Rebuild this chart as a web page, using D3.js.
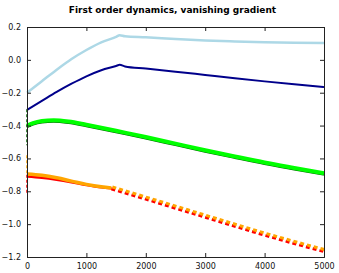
<!DOCTYPE html>
<html>
<head>
<meta charset="utf-8">
<script src="https://cdn.jsdelivr.net/npm/d3@7"></script>
<style>
  body { margin: 0; background: #fff; }
  svg { display: block; font-family: "DejaVu Sans", sans-serif; }
</style>
</head>
<body>
<script>
// Chart size and axes box
const width = 339;
const height = 273;
const margin = { top: 27, right: 15, bottom: 16, left: 27 };

// Data
const xTicks = [0, 1000, 2000, 3000, 4000, 5000];
const yTicks = [0.2, 0.0, -0.2, -0.4, -0.6, -0.8, -1.0, -1.2];

const tBlue = [0, 250, 500, 750, 1000, 1250, 1500, 1560, 1650, 2000, 2500, 3000, 3500, 4000, 4500, 5000];
const lightBlue = [-0.2, -0.13, -0.06, 0.005, 0.06, 0.107, 0.14, 0.15, 0.143, 0.137, 0.127, 0.118, 0.112, 0.107, 0.104, 0.102];
const darkBlue = [-0.305, -0.25, -0.195, -0.145, -0.1, -0.063, -0.037, -0.03, -0.04, -0.053, -0.072, -0.092, -0.112, -0.131, -0.149, -0.166];

const tGreen = [0, 100, 250, 450, 700, 1000, 1250, 1500, 2000, 2500, 3000, 3500, 4000, 4500, 5000];
const green = [-0.4, -0.385, -0.372, -0.367, -0.375, -0.395, -0.413, -0.432, -0.47, -0.51, -0.55, -0.588, -0.625, -0.658, -0.69];

const tSolid = [0, 250, 500, 750, 1000, 1250, 1420];
const orangeSolid = [-0.695, -0.703, -0.718, -0.738, -0.758, -0.773, -0.78];
const redSolid = [-0.71, -0.718, -0.73, -0.745, -0.762, -0.776, -0.782];

const tDotted = [1420, 2000, 2500, 3000, 3500, 4000, 4500, 5000];
const orangeDotted = [-0.78, -0.843, -0.898, -0.953, -1.008, -1.062, -1.113, -1.162];
const redDotted = [-0.785, -0.848, -0.903, -0.958, -1.013, -1.067, -1.118, -1.167];

// short dashed runs at t = 0
const greenStart = [-0.3, -0.52];
const orangeStart = [-0.58, -0.69];
const redStart = [-0.7, -0.82];

const x = d3.scaleLinear().domain([0, 5000]).range([margin.left, width - margin.right]);
const y = d3.scaleLinear().domain([-1.2, 0.2]).range([height - margin.bottom, margin.top]);

const svg = d3.select("body").append("svg")
  .attr("width", width)
  .attr("height", height);

const line = d3.line().x(d => x(d[0])).y(d => y(d[1])).curve(d3.curveMonotoneX);

function draw(ts, vs, color, w, dash) {
  const p = svg.append("path")
    .datum(ts.map((t, i) => [t, vs[i]]))
    .attr("fill", "none")
    .attr("stroke", color)
    .attr("stroke-width", w)
    .attr("d", line);
  if (dash) p.attr("stroke-dasharray", dash);
  return p;
}

// start transients
draw([0, 0], greenStart, "#006400", 1.5, "3,2");
draw([0, 0], orangeStart, "#ffa500", 1.5, "3,2");
draw([0, 0], redStart, "#ff0000", 1.5, "3,2");

draw(tBlue, lightBlue, "#add8e6", 2.5);
draw(tBlue, darkBlue, "#00008b", 2);
draw(tGreen, green.map(v => v - 0.006), "#006400", 3);
draw(tGreen, green, "#00ff00", 4);

// red sits under the orange band
draw(tSolid, redSolid, "#ff0000", 2.5);
draw(tSolid, orangeSolid, "#ffa500", 3.5);
draw(tDotted, redDotted, "#ff0000", 3, "4,3");
draw(tDotted, orangeDotted, "#ffa500", 3, "4,3").attr("transform", "translate(1,-1)");

// axes: ticks inward on all sides
const fmt = d => d3.format(".1f")(d).replace("-", "\u2212");
svg.append("g")
  .attr("transform", `translate(0,${height - margin.bottom})`)
  .call(d3.axisBottom(x).tickValues(xTicks).tickSize(-4).tickPadding(6).tickFormat(d3.format("d")));
svg.append("g")
  .attr("transform", `translate(0,${margin.top})`)
  .call(d3.axisTop(x).tickValues(xTicks).tickSize(-4).tickFormat(""));
svg.append("g")
  .attr("transform", `translate(${margin.left},0)`)
  .call(d3.axisLeft(y).tickValues(yTicks).tickSize(-4).tickPadding(6).tickFormat(fmt));
svg.append("g")
  .attr("transform", `translate(${width - margin.right},0)`)
  .call(d3.axisRight(y).tickValues(yTicks).tickSize(-4).tickFormat(""));

svg.selectAll(".domain").attr("stroke", "#222");
svg.selectAll(".tick line").attr("stroke", "#222");
svg.selectAll(".tick text").attr("font-size", 8).attr("fill", "#111").attr("font-family", "DejaVu Sans");

svg.append("text")
  .attr("x", (margin.left + width - margin.right) / 2 - 3)
  .attr("y", 13)
  .attr("text-anchor", "middle")
  .attr("font-size", 9)
  .attr("font-weight", "bold")
  .text("First order dynamics, vanishing gradient");
</script>
</body>
</html>
